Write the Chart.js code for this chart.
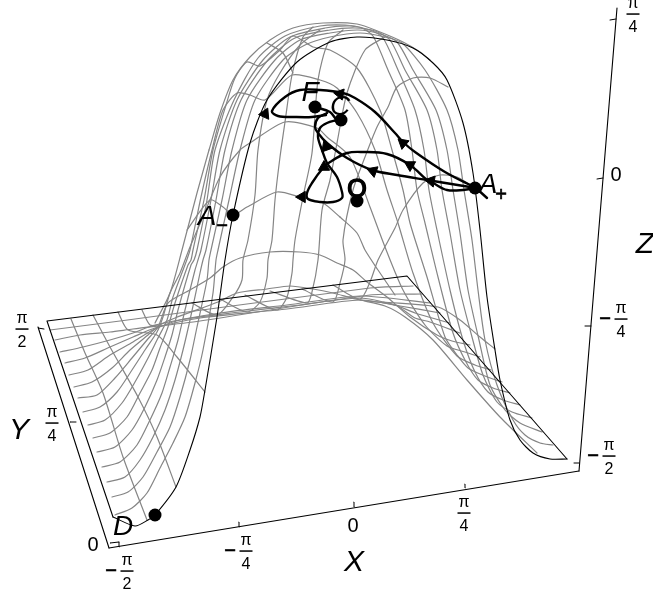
<!DOCTYPE html>
<html><head><meta charset="utf-8">
<style>html,body{margin:0;padding:0;background:#fff}canvas{display:block}</style>
<script src="https://cdn.jsdelivr.net/npm/chart.js@4"></script>
</head><body><canvas id="c" width="653" height="598"></canvas>
<script>
// ---- values, in picture units ----
const meshY1=[[115,515],[132,508],[147,493],[160,468],[173,443],[185,417],[195,383],[203,350],[213,293],[216,260],[218,250],[229,200],[240,150],[255,100],[283,60],[305,45],[330,37],[360,33],[385,37],[402,43],[425,70],[447,110],[458,150],[464,190],[472,240],[478,290],[485,340],[497,385],[513,420],[525,435],[540,443],[553,445]];
const meshY2=[[112,497],[128,492],[143,477],[157,452],[170,427],[180,397],[190,360],[197,327],[207,280],[209,260],[211,250],[222,200],[232,150],[247,100],[275,60],[300,40],[330,33],[358,30],[380,34],[397,42],[413,70],[436,110],[447,150],[453,190],[460,233],[468,290],[479,340],[490,385],[505,410],[520,423],[542,432]];
const meshY3=[[107,482],[125,477],[140,460],[153,437],[165,410],[175,380],[183,350],[190,320],[200,273],[203,260],[206,250],[216,200],[225,150],[241,100],[268,60],[295,38],[330,30],[355,28],[375,31],[390,40],[405,70],[427,110],[437,150],[442,190],[450,233],[460,290],[472,337],[483,375],[497,402],[512,412],[532,418]];
const meshY4=[[102,467],[120,462],[137,445],[150,420],[162,393],[170,367],[178,340],[185,310],[195,270],[198,260],[201,250],[211,200],[220,150],[237,100],[263,60],[290,37],[325,28],[350,26],[370,30],[383,38],[398,70],[415,110],[424,150],[429,190],[437,230],[450,290],[463,340],[475,372],[488,392],[503,400],[520,405]];
const meshY5=[[97,452],[115,447],[132,430],[145,407],[157,380],[165,357],[172,335],[178,310],[191,265],[194,260],[197,250],[207,200],[215,150],[234,100],[258,58],[285,36],[320,26],[345,25],[362,28],[373,36],[388,70],[405,110],[412,150],[417,190],[425,223],[438,277],[453,333],[466,362],[478,380],[493,388],[510,393]];
const meshY6=[[93,438],[110,433],[127,417],[140,393],[152,370],[160,348],[168,327],[175,303],[188,265],[191,260],[193,250],[204,200],[213,150],[226,105],[235,78],[247,62],[260,66],[280,50],[293,36],[313,47],[330,50],[357,68],[380,110],[392,150],[403,190],[410,223],[427,277],[445,337],[457,355],[468,368],[485,376],[502,382]];
const meshY7=[[88,425],[105,420],[122,403],[135,382],[147,360],[157,340],[167,320],[173,297],[186,262],[190,250],[201,197],[212,150],[223,110],[237,93],[250,95],[265,100],[292,75],[320,80],[337,88],[357,113],[375,150],[387,190],[398,223],[413,273],[433,323],[457,356],[475,365],[491,370]];
const meshY8=[[83,412],[100,407],[117,392],[132,370],[145,350],[157,332],[163,317],[170,293],[180,273],[190,247],[203,217],[220,177],[240,150],[250,143],[285,122],[317,128],[327,137],[350,157],[370,207],[385,247],[403,290],[425,325],[447,346],[465,352],[480,357]];
const meshY9=[[78,398],[97,395],[115,378],[132,358],[147,340],[158,327],[168,303],[190,290],[210,278],[223,267],[240,258],[270,252],[300,252],[320,255],[337,263],[353,270],[367,282],[387,297],[410,317],[437,335],[452,341],[470,345]];
const meshY10=[[74,387],[92,382],[112,368],[130,350],[148,335],[160,325],[175,318],[218,302],[237,293],[267,289],[290,286],[313,289],[333,293],[360,300],[395,305],[415,318],[430,322],[460,333]];
const meshY11=[[69,375],[88,370],[110,355],[133,342],[153,330],[180,320],[240,312],[300,305],[360,298],[395,305],[415,313],[450,323]];
const meshY12=[[65,363],[85,358],[110,347],[133,337],[155,328],[200,318],[287,309],[360,300],[400,306],[440,313]];
const meshY13=[[60,352],[83,347],[110,340],[133,333],[155,325],[220,313],[287,305],[360,296],[430,303]];
const meshY14=[[55,340],[80,335],[110,332],[133,329],[200,321],[370,295],[422,294]];
const meshY15=[[50,330],[120,321],[370,288],[413,286]];
const meshX1=[[71,319],[85,353],[103,393],[123,457],[147,520]];
const meshX2=[[93,315],[110,347],[138,397],[157,437],[176,487]];
const meshX3=[[118,312],[128,330],[157,335],[177,357],[205,392]];
const meshX4=[[142,310],[150,325],[160,325]];
const meshX5=[[192,303],[217,315],[233,297],[242,280],[243,260],[248,240],[255,195],[258,150],[267,100],[280,73],[300,45],[320,30]];
const meshX6=[[220,299],[247,312],[260,302],[267,278],[268,260],[272,240],[275,200],[280,157],[285,122],[292,75],[303,37],[313,27]];
const meshX7=[[245,295],[277,310],[287,297],[292,273],[293,260],[295,240],[303,197],[312,153],[318,80],[328,43],[343,30]];
const meshX8=[[270,291],[307,303],[312,292],[318,260],[322,210],[330,180],[337,143],[347,93],[365,50],[385,37]];
const meshX9=[[302,289],[333,302],[340,283],[345,260],[343,240],[353,190],[365,157],[377,127],[388,107],[397,87],[413,78],[430,78],[448,87]];
const meshX10=[[333,285],[360,299],[370,282],[378,260],[395,228],[403,210],[423,183],[440,175],[457,177],[470,185]];
const meshX11=[[383,302],[438,307],[460,320],[480,337],[495,349]];
const meshX12=[[360,300],[385,306],[405,317],[433,340],[467,380],[500,417],[537,453]];
const meshX13=[[340,217],[357,233],[365,250],[378,270],[395,295]];
const meshX14=[[187,230],[210,200],[223,207],[233,215],[247,207],[277,192],[300,197],[323,203],[340,217]];
const meshX15=[[267,43],[283,53],[293,73]];
const profileFront=[[113,517],[135,526],[148,520],[155,515],[176,487],[190,450],[200,417],[205,390],[217,317],[225,260],[233,215],[250,143],[267,100],[297,62],[330,42],[357,37],[387,40],[413,48],[433,63],[447,80],[463,123],[473,173],[480,230],[487,297],[495,350],[500,380],[510,420],[520,440],[533,453],[550,459],[567,459]];
const profileSilhouette=[[209,150],[220,113],[233,80],[250,57],[270,40],[293,28],[323,23],[357,24],[380,32],[403,42],[420,52],[430,60]];
const silhouetteLow=[[155,323],[170,293],[182,250],[197,193],[209,150]];
const baseFrame=[[113,517],[47,321],[407,276],[567,459]];
const axisY=[[38,327],[109,548]];
const axisX=[[109,548],[579,471]];
const axisZ=[[579,471],[617,8]];
const ticks=[[[38,328],[44,329]],[[70,422],[76,422]],[[110,543],[119,542]],[[119,547],[119,542]],[[239,527],[239,522]],[[354,507],[354,502]],[[465,488],[465,484]],[[579,463],[574,463]],[[591,326],[585,326]],[[603,178],[597,179]],[[616,19],[610,20]]];
const pathTop=[[476,188],[445,172],[415,152],[403,142],[395,133],[375,112],[355,98],[343,93],[320,90],[300,90],[285,97],[272,111],[278,116],[295,117],[312,117],[326,115]];
const pathMid=[[476,188],[427,180],[397,175],[372,170],[347,158],[327,143],[318,133],[315,127],[318,118],[327,113]];
const pathLoop=[[476,188],[463,190],[447,190],[433,183],[427,180],[410,165],[387,154],[363,152],[347,153],[330,162],[323,168],[312,183],[307,193],[308,199],[320,202],[333,202],[342,198],[342,192],[337,177],[327,163],[322,150],[318,137],[320,128],[327,123],[337,120]];
const pathLink=[[315,107],[330,112],[337,120],[341,120]];
const pathTail=[[476,188],[487,198]];
const arrowPoints=[[265,114],[340,94],[403,143],[410,165],[431,181],[373,171],[326,147],[324,167],[302,197]];
const arrowAngles=[265,280,310,300,280,290,340,0,270];
const stateDots=[[155,515],[233,215],[315,107],[341,120],[357,201],[475,188]];
const axisTitles=[['X',354,563],['Y',19,431],['Z',645,245]];
const letters=[['D',123,527],['A',207,217],['A',488,185],['F',310,93],['C',340,107]];
const ringLetters=[['O',357,190]];
const smallMarks=[['−',222,226],['+',501,195]];
const plainNumbers=[['0',93,545],['0',353,526],['0',616,175]];
const fractions=[['π','2',22,329,''],['π','4',52,423,''],['π','2',127,571,'−'],['π','4',246,551,'−'],['π','4',464,513,''],['π','2',609,456,'−'],['π','4',621,319,'−'],['π','4',633,14,'']];

const toXY=a=>a.map(p=>({x:p[0],y:p[1]}));
const line=(pts,color,width,tension,order)=>({data:toXY(pts),showLine:true,borderColor:color,borderWidth:width,tension:tension,pointRadius:0,order:order,fill:false,borderCapStyle:'round',borderJoinStyle:'round'});
const GRAY='#858585';
const meshes=[meshY1,meshY2,meshY3,meshY4,meshY5,meshY6,meshY7,meshY8,meshY9,meshY10,meshY11,meshY12,meshY13,meshY14,meshY15,meshX1,meshX2,meshX3,meshX4,meshX5,meshX6,meshX7,meshX8,meshX9,meshX10,meshX11,meshX12,meshX13,meshX14,meshX15,profileSilhouette,silhouetteLow];
const datasets=[];
meshes.forEach(m=>datasets.push(line(m,GRAY,1.2,0.25,5)));
datasets.push(line(profileFront,'#000',1.1,0.25,4));
[baseFrame,axisY,axisX,axisZ].forEach(a=>datasets.push(line(a,'#000',1.1,0,4)));
ticks.forEach(a=>datasets.push(line(a,'#000',1,0,4)));
[pathTop,pathMid,pathLoop,pathLink].forEach(a=>datasets.push(line(a,'#000',2.4,0.35,3)));
datasets.push(line(pathTail,'#000',2.4,0,3));
datasets.push({data:toXY(arrowPoints),showLine:false,pointStyle:'triangle',pointRadius:6.5,pointRotation:arrowAngles,backgroundColor:'#000',borderColor:'#000',borderWidth:1,order:2});
datasets.push({data:toXY(stateDots),showLine:false,pointStyle:'circle',pointRadius:6.5,backgroundColor:'#000',borderColor:'#000',borderWidth:0,order:1});

const textPlugin={id:'texts',afterDatasetsDraw(chart){
  const c=chart.ctx,sx=chart.scales.x,sy=chart.scales.y,X=v=>sx.getPixelForValue(v),Y=v=>sy.getPixelForValue(v);
  c.save();c.fillStyle='#000';c.strokeStyle='#000';c.textAlign='center';c.textBaseline='middle';
  c.font='italic 30px "Liberation Sans"';
  axisTitles.forEach(l=>c.fillText(l[0],X(l[1]),Y(l[2])));
  c.font='italic 28px "Liberation Sans"';
  letters.forEach(l=>c.fillText(l[0],X(l[1]),Y(l[2])));
  c.font='25px "Liberation Sans"';
  ringLetters.forEach(l=>{c.lineWidth=1.5;c.fillText(l[0],X(l[1]),Y(l[2]));c.strokeText(l[0],X(l[1]),Y(l[2]));});
  c.font='20px "Liberation Sans"';
  c.lineWidth=0.6;
  smallMarks.forEach(l=>{c.fillText(l[0],X(l[1]),Y(l[2]));c.strokeText(l[0],X(l[1]),Y(l[2]));});
  c.font='20px "Liberation Sans"';
  plainNumbers.forEach(l=>c.fillText(l[0],X(l[1]),Y(l[2])));
  fractions.forEach(f=>{
    const x=X(f[2]),y=Y(f[3]);
    c.font='16px "Liberation Sans"';
    c.fillText(f[0],x,y-10.5);
    c.fillText(f[1],x,y+14);
    c.fillRect(x-6.5,y-0.7,13,1.5);
    if(f[4]){c.font='20px "Liberation Sans"';c.lineWidth=0.6;c.fillText(f[4],x-16,y);c.strokeText(f[4],x-16,y);}
  });
  c.restore();
}};
new Chart(document.getElementById('c'),{type:'scatter',data:{datasets},plugins:[textPlugin],options:{
  responsive:false,animation:false,devicePixelRatio:1,layout:{padding:0,autoPadding:false},
  plugins:{legend:{display:false},tooltip:{enabled:false}},
  scales:{x:{type:'linear',min:0,max:653,display:false},y:{type:'linear',min:0,max:598,reverse:true,display:false}}
}});
</script></body></html>
